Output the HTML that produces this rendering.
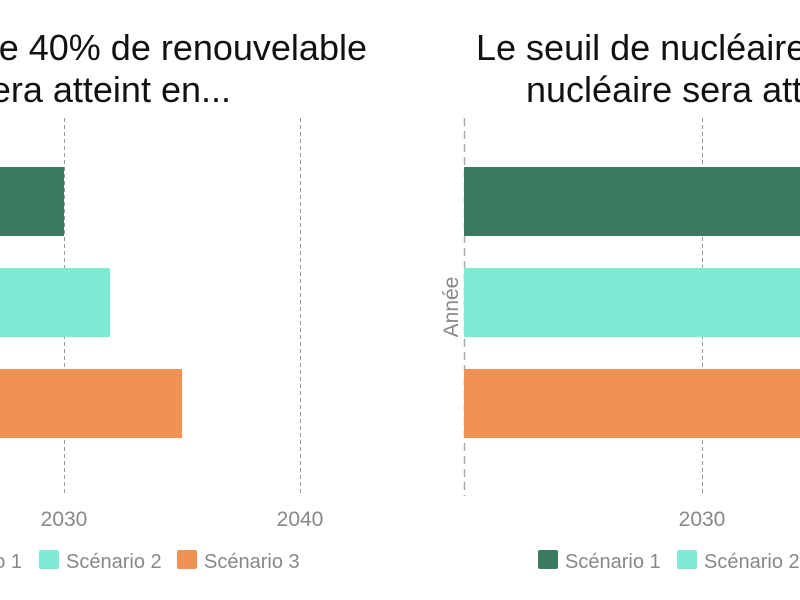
<!DOCTYPE html>
<html><head><meta charset="utf-8"><style>
html,body{margin:0;padding:0;background:#fff;width:800px;height:600px;overflow:hidden}
svg text{font-family:"Liberation Sans",Arial,sans-serif}
</style></head><body>
<svg width="800" height="600" xmlns="http://www.w3.org/2000/svg">
<!-- left chart -->
<text x="367" y="60" font-size="36" text-anchor="end" fill="#111">Le seuil de 40% de renouvelable</text>
<text x="231" y="102" font-size="36" text-anchor="end" fill="#111">sera atteint en...</text>
<line x1="64.5" y1="118" x2="64.5" y2="496" stroke="#999" stroke-dasharray="4,3"/>
<line x1="300.5" y1="118" x2="300.5" y2="496" stroke="#999" stroke-dasharray="4,3"/>
<rect x="0" y="167" width="64" height="69" fill="#3b7a60"/>
<rect x="0" y="268" width="110" height="69" fill="#7debd3"/>
<rect x="0" y="369" width="182" height="69" fill="#f09254"/>
<text x="64" y="526" font-size="21" text-anchor="middle" fill="#888">2030</text>
<text x="300" y="526" font-size="21" text-anchor="middle" fill="#888">2040</text>
<text x="22" y="568" font-size="20" text-anchor="end" fill="#888">Scénario 1</text>
<rect x="39" y="550" width="20" height="19" rx="2" fill="#7debd3"/>
<text x="66" y="568" font-size="20" fill="#888">Scénario 2</text>
<rect x="177" y="550" width="20" height="19" rx="2" fill="#f09254"/>
<text x="204" y="568" font-size="20" fill="#888">Scénario 3</text>
<!-- right chart -->
<text x="476" y="60" font-size="36" fill="#111">Le seuil de nucléaire de 50% de</text>
<text x="526" y="102" font-size="36" fill="#111">nucléaire sera atteint en...</text>
<line x1="464.5" y1="118" x2="464.5" y2="496" stroke="#aaa" stroke-width="1.5" stroke-dasharray="8,5"/>
<line x1="702.5" y1="118" x2="702.5" y2="496" stroke="#999" stroke-dasharray="4,3"/>
<rect x="464" y="167" width="336" height="69" fill="#3b7a60"/>
<rect x="464" y="268" width="336" height="69" fill="#7debd3"/>
<rect x="464" y="369" width="336" height="69" fill="#f09254"/>
<text transform="translate(458,307) rotate(-90)" font-size="21" text-anchor="middle" fill="#888">Année</text>
<text x="702" y="526" font-size="21" text-anchor="middle" fill="#888">2030</text>
<rect x="538" y="550" width="20" height="19" rx="2" fill="#3b7a60"/>
<text x="565" y="568" font-size="20" fill="#888">Scénario 1</text>
<rect x="677" y="550" width="20" height="19" rx="2" fill="#7debd3"/>
<text x="704" y="568" font-size="20" fill="#888">Scénario 2</text>
</svg>
</body></html>
